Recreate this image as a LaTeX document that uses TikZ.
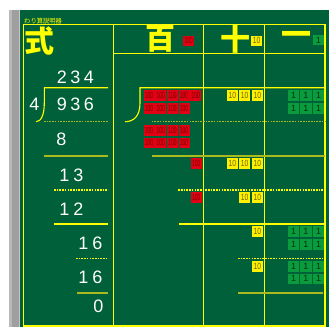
\documentclass[tikz,border=0pt]{standalone}
\usepackage{fontspec}
\setmainfont{Liberation Sans}
\newfontfamily\cjk{Noto Sans CJK JP}
\definecolor{board}{RGB}{0,96,58}
\definecolor{ylw}{RGB}{255,255,0}
\definecolor{olv}{RGB}{170,185,30}
\definecolor{redbox}{RGB}{225,0,20}
\definecolor{ylwbox}{RGB}{255,240,0}
\definecolor{grnbox}{RGB}{10,155,60}
\definecolor{hundtext}{RGB}{120,0,0}
\definecolor{tentext}{RGB}{110,100,0}
\definecolor{onetext}{RGB}{0,50,20}
\begin{document}
\begin{tikzpicture}[x=1pt,y=-1pt,
  solidY/.style={draw=ylw, line width=1.1pt},
  solidO/.style={draw=olv, line width=2pt},
  dotsO/.style={draw=olv, line width=1.5pt, dash pattern=on 1.6pt off 1.1pt},
  dotsY/.style={draw=ylw, line width=1.3pt, dash pattern=on 1.6pt off 1.1pt},
  dig/.style={text=white, font=\fontsize{18}{18}\selectfont, inner sep=0, anchor=base},
  big/.style={text=ylw, font=\cjk\bfseries\fontsize{30}{30}\selectfont, inner sep=0},
  blk/.style={anchor=north west, inner sep=0, minimum height=10.6pt, font=\fontsize{9}{9}\selectfont},
  hb/.style={blk, fill=redbox, minimum width=11pt, text=hundtext},
  tb/.style={blk, fill=ylwbox, minimum width=11pt, text=tentext},
  ob/.style={blk, fill=grnbox, minimum width=11.3pt, text=onetext},
]
\useasboundingbox (0,0) rectangle (330,327);
% board and side bar
\fill[white] (0,0) rectangle (330,327);
\fill[board] (20,10) rectangle (328.5,327);
\fill[gray!75!black!60] (9,10) rectangle (20,327);
\fill[gray!55] (9,10) rectangle (11.5,327);
\fill[gray!45] (18.5,10) rectangle (20,327);
% title
\node[text=ylw, font=\cjk\fontsize{6.3}{6.3}\selectfont, inner sep=0, anchor=west] (title) at (24,21.5) {わり算説明器};
% frame and grid
\draw[solidY] (23.3,24.5) rectangle (325,326);
\draw[solidY] (113.3,24.5) -- (113.3,326);
\draw[solidY] (203.3,24.5) -- (203.3,326);
\draw[solidY] (264.3,24.5) -- (264.3,326);
\draw[solidY] (113.3,53.3) -- (325,53.3);
% headers
\node[big] (shiki) at (39.5,40.8) {式};
\node[big] (hyaku) at (160.3,39.2) {百};
\node[big] (juu) at (235,39.5) {十};
\node[big] (ichi) at (296,38.7) {一};
\node[hb] (hh) at (183,35.3) {\scalebox{0.55}[1]{100}};
\node[tb] (th) at (251,35.3) {\scalebox{0.75}[1]{10}};
\node[ob] (oh) at (312.5,34.5) {1};
% brackets
\draw[solidY] (108,87.7) -- (44.3,87.7) -- (44.3,103) .. controls (44.3,115) and (41,121.7) .. (36,121.7);
\draw[solidY] (325,87.7) -- (140,87.7) -- (140,103) .. controls (140,117) and (133,121.7) .. (125,121.7);
% left column rules
\draw[dotsO] (44,121.7) -- (108,121.7);
\draw[solidO] (44,155.7) -- (108,155.7);
\draw[dotsY] (54,190) -- (108,190);
\draw[solidY] (54,224) -- (108,224);
\draw[dotsY] (76,258.3) -- (108,258.3);
\draw[solidO] (77,292.7) -- (108,292.7);
% right rules
\draw[dotsO] (151.7,121.7) -- (325,121.7);
\draw[solidO] (151.7,156) -- (325,156);
\draw[dotsY] (178.3,190) -- (325,190);
\draw[solidY] (179,224) -- (325,224);
\draw[dotsY] (238,258.3) -- (325,258.3);
\draw[solidO] (238.3,292.7) -- (323.3,292.7);
% digits
\node[dig] (quot) at (75.5,83) {2\hspace{3.5pt}3\hspace{3.5pt}4};
\node[dig] (divisor) at (34.5,110) {4};
\node[dig] (dividend) at (75.5,110) {9\hspace{3.5pt}3\hspace{3.5pt}6};
\node[dig] (s1) at (61.5,145.7) {8};
\node[dig] (r1) at (71.5,181) {1\hspace{4pt}3};
\node[dig] (s2) at (71.5,215) {1\hspace{4pt}2};
\node[dig] (r2) at (90.5,249) {1\hspace{4pt}6};
\node[dig] (s3) at (90.5,283) {1\hspace{4pt}6};
\node[dig] (r3) at (98.5,312.7) {0};
% hundreds blocks
\foreach \i in {0,...,4} \node[hb] (ha\i) at ({143.3+11.7*\i},90) {\scalebox{0.55}[1]{100}};
\foreach \i in {0,...,3} \node[hb] (hb\i) at ({143.3+11.7*\i},102.7) {\scalebox{0.55}[1]{100}};
\foreach \i in {0,...,3} \node[hb] (hc\i) at ({143.3+11.7*\i},125) {\scalebox{0.55}[1]{100}};
\foreach \i in {0,...,3} \node[hb] (hd\i) at ({143.3+11.7*\i},137.3) {\scalebox{0.55}[1]{100}};
\node[hb] (he) at (190.6,157.7) {\scalebox{0.55}[1]{100}};
\node[hb] (hf) at (190.6,191.7) {\scalebox{0.55}[1]{100}};
% tens blocks
\foreach \x [count=\i] in {226.7,239,251.7} \node[tb] (ta\i) at (\x,90) {\scalebox{0.75}[1]{10}};
\foreach \x [count=\i] in {226.7,239,251.7} \node[tb] (tb\i) at (\x,157.7) {\scalebox{0.75}[1]{10}};
\foreach \x [count=\i] in {239,251.7} \node[tb] (tc\i) at (\x,191.7) {\scalebox{0.75}[1]{10}};
\node[tb] (td) at (251.7,226) {\scalebox{0.75}[1]{10}};
\node[tb] (te) at (251.7,261) {\scalebox{0.75}[1]{10}};
% ones blocks
\foreach \y [count=\j] in {90,102.7,226,239,261,273.3}
  \foreach \x [count=\i] in {287.7,300,312.7}
    \node[ob] (o\j\i) at (\x,\y) {1};
\end{tikzpicture}
\end{document}
